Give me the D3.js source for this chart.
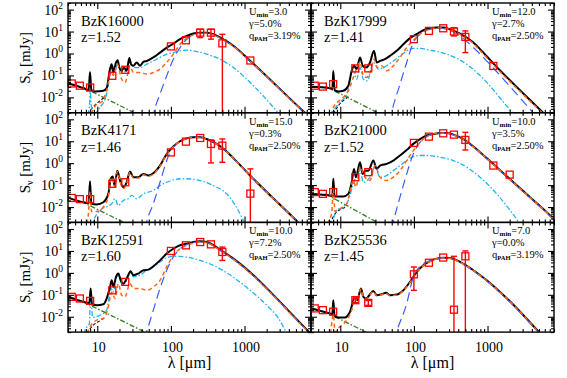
<!DOCTYPE html>
<html>
<head>
<meta charset="utf-8">
<script src="https://cdnjs.cloudflare.com/ajax/libs/d3/7.8.5/d3.min.js"></script>
<style>
	body{margin:0;background:#fff;}
	text{font-family:"Liberation Serif","Times New Roman",serif;fill:#000;}
</style>
</head>
<body>
<svg id="sed" width="567" height="378"></svg>
<script>
(function(){

	// photometry: wavelength (um), flux (mJy), error bar ends (0 = down off the axis, null = none)
	var wave16000 = [4.5,5.8,8,16,24,100,160,250,350,500,1200];
	var flux16000 = [0.043,0.034,0.028,0.096,0.18,2.1,4.0,8.9,8.9,2.9,0.48];
	var lo16000 = [null,null,null,null,null,null,null,5.3,4.5,0,null];
	var hi16000 = [null,null,null,null,null,null,null,12.7,12.7,7.5,null];

	var wave17999 = [4.5,5.8,8,16,24,100,160,250,350,500,1200];
	var flux17999 = [0.034,0.031,0.040,0.21,0.21,4.5,10.7,14.1,10.0,5.7,0.27];
	var lo17999 = [null,null,null,null,null,null,null,null,6.3,1.1,null];
	var hi17999 = [null,null,null,null,null,null,null,null,15.1,10.7,null];

	var wave4171 = [4.5,5.8,8,16,24,100,160,250,350,500,1200];
	var flux4171 = [0.026,0.023,0.023,0.115,0.136,3.1,9.6,14.1,7.5,6.3,0.041];
	var lo4171 = [null,null,null,null,null,null,null,null,1.03,1.1,0];
	var hi4171 = [null,null,null,null,null,null,null,null,11.5,12.7,0.55];

	var wave21000 = [4.5,5.8,8,16,24,100,160,250,350,500,1200,2000];
	var flux21000 = [0.048,0.040,0.048,0.23,0.39,8.4,16.2,23,20,11.5,0.78,0.30];
	var lo21000 = [null,null,null,null,null,null,null,null,null,4.0,null,null];
	var hi21000 = [null,null,null,null,null,null,null,null,null,25.5,null,null];

	var wave12591 = [4.5,5.8,8,16,24,100,160,250,350,500];
	var flux12591 = [0.081,0.068,0.053,0.16,0.39,10,18,25.5,20,9.0];
	var lo12591 = [null,null,null,null,null,null,null,null,null,3.7];
	var hi12591 = [null,null,null,null,null,null,null,null,null,15];

	var wave25536 = [4.5,5.8,8,16,24,100,160,250,350,500];
	var flux25536 = [0.024,0.020,0.017,0.057,0.043,0.86,2.9,5.0,0.021,5.7];
	var lo25536 = [null,null,null,0.045,0.033,0.16,null,null,0,0];
	var hi25536 = [null,null,null,0.07,0.055,1.86,null,null,5.7,10];

	// model curves, pairs of [log10 lambda/um, log10 S/mJy]
	var total16000 = [[0.607,-1.37],[0.81,-1.58],[0.883,-1.67],[0.901,-0.84],[0.919,-1.67],[0.969,-1.73],[1.082,-1.7],[1.127,-1.58],[1.173,-0.71],[1.195,-0.49],[1.218,-0.87],[1.254,-0.41],[1.277,-0.31],[1.299,-0.64],[1.331,-0.79],[1.363,-0.64],[1.399,-0.79],[1.435,-0.21],[1.458,-0.49],[1.49,-0.56],[1.535,-0.41],[1.58,-0.56],[1.626,-0.38],[1.671,-0.34],[1.761,-0.18],[1.852,0.04],[1.943,0.27],[2.033,0.45],[2.124,0.65],[2.214,0.8],[2.305,0.91],[2.395,0.95],[2.486,0.95],[2.577,0.88],[2.667,0.73],[2.848,0.35],[3.079,-0.34],[3.82,-2.7],[3.95,-3.1]];
	var diffuse16000 = [[0.92,-2.75],[0.99,-2.31],[1.06,-2.2],[1.127,-1.7],[1.186,-0.87],[1.218,-1.0],[1.272,-0.49],[1.331,-1.17],[1.376,-1.32],[1.444,-0.56],[1.49,-0.87],[1.58,-0.87],[1.671,-0.94],[1.761,-0.87],[1.852,-0.71],[1.943,-0.41],[2.033,-0.03],[2.124,0.42],[2.214,0.7],[2.305,0.85],[2.395,0.92],[2.486,0.92],[2.577,0.85],[2.667,0.7],[2.848,0.33],[3.079,-0.36],[3.82,-2.72],[3.95,-3.12]];
	var pdr16000 = [[0.87,-2.8],[0.895,-2.3],[0.905,-1.6],[0.915,-2.3],[0.95,-2.75],[1.037,-2.46],[1.127,-1.85],[1.182,-0.87],[1.209,-0.56],[1.241,-0.87],[1.272,-0.41],[1.309,-0.71],[1.354,-0.87],[1.399,-0.71],[1.444,-0.34],[1.49,-0.64],[1.58,-0.64],[1.671,-0.49],[1.761,-0.34],[1.852,-0.18],[1.943,-0.03],[2.033,0.04],[2.124,0.12],[2.214,0.15],[2.305,0.12],[2.486,-0.03],[2.667,-0.26],[2.848,-0.64],[3.1,-1.4],[3.451,-2.69],[3.55,-3.1]];
	var cold16000 = [[1.75,-3.0],[1.77,-2.68],[1.852,-1.85],[1.943,-1.02],[2.033,-0.26],[2.124,0.27],[2.214,0.65],[2.305,0.85],[2.395,0.92],[2.486,0.93],[2.577,0.86],[2.667,0.71],[2.848,0.33],[3.079,-0.36],[3.82,-2.72],[3.95,-3.12]];
	var star16000 = [[0.8,-1.53],[1.52,-2.73]];
	var extra16000 = [[0.865,-2.75],[0.946,-2.43],[1.037,-2.15],[1.105,-2.0]];

	var total17999 = [[0.611,-1.52],[0.86,-1.58],[0.892,-1.62],[0.905,-0.79],[0.923,-1.67],[0.973,-1.73],[1.041,-1.7],[1.109,-1.47],[1.155,-0.79],[1.186,-0.56],[1.222,-0.71],[1.268,-0.18],[1.304,-0.56],[1.349,-0.64],[1.404,-0.41],[1.458,0.12],[1.494,-0.41],[1.54,-0.34],[1.607,-0.26],[1.675,-0.11],[1.766,0.12],[1.857,0.42],[1.947,0.7],[2.038,0.88],[2.128,1.06],[2.219,1.15],[2.309,1.18],[2.4,1.18],[2.491,1.1],[2.626,0.91],[2.808,0.5],[2.898,0.2],[3.075,-0.44],[3.754,-2.7],[3.9,-3.18]];
	var diffuse17999 = [[0.88,-2.8],[0.905,-2.46],[1.041,-2.0],[1.109,-1.7],[1.186,-1.02],[1.268,-0.41],[1.313,-1.02],[1.358,-1.09],[1.404,-0.87],[1.458,-0.26],[1.503,-0.64],[1.562,-0.56],[1.63,-0.79],[1.721,-0.56],[1.811,-0.18],[1.902,0.27],[1.992,0.6],[2.083,0.88],[2.174,1.06],[2.264,1.15],[2.355,1.17],[2.445,1.14],[2.536,1.02],[2.626,0.87],[2.808,0.45],[2.898,0.14],[3.075,-0.5],[3.754,-2.74],[3.9,-3.22]];
	var pdr17999 = [[0.89,-3.0],[0.905,-2.68],[0.973,-2.31],[1.087,-1.85],[1.177,-0.79],[1.222,-1.17],[1.268,-0.64],[1.313,-1.17],[1.367,-1.24],[1.449,-0.41],[1.517,-0.71],[1.63,-0.56],[1.721,-0.34],[1.811,-0.11],[1.902,0.12],[1.992,0.23],[2.083,0.23],[2.219,0.15],[2.445,-0.03],[2.717,-0.49],[2.898,-1.0],[3.34,-2.7],[3.45,-3.1]];
	var cold17999 = [[1.67,-3.1],[1.698,-2.68],[1.811,-1.4],[1.902,-0.41],[1.992,0.5],[2.083,0.88],[2.174,1.06],[2.264,1.13],[2.355,1.15],[2.445,1.1],[2.536,0.98],[2.626,0.8],[2.808,0.27],[3.075,-0.65],[3.618,-2.7],[3.75,-3.2]];
	var star17999 = [[0.8,-1.5],[1.52,-2.72]];
	var extra17999 = [[0.905,-2.75],[0.973,-2.38],[1.064,-2.08],[1.132,-1.93]];

	var total4171 = [[0.607,-1.58],[0.81,-1.78],[0.883,-1.82],[0.901,-0.82],[0.919,-1.85],[0.992,-1.88],[1.082,-1.78],[1.15,-1.4],[1.182,-0.71],[1.209,-0.61],[1.236,-1.02],[1.272,-0.34],[1.309,-0.79],[1.354,-1.09],[1.399,-0.87],[1.444,-0.38],[1.49,-0.64],[1.558,-0.64],[1.626,-0.49],[1.694,-0.56],[1.761,-0.46],[1.852,-0.11],[1.943,0.42],[2.033,0.76],[2.124,1.0],[2.214,1.13],[2.305,1.18],[2.395,1.18],[2.486,1.1],[2.622,0.88],[2.75,0.55],[2.871,0.15],[3.075,-0.56],[3.727,-2.69],[3.85,-3.1]];
	var diffuse4171 = [[0.86,-2.75],[0.88,-2.3],[0.901,-1.3],[0.92,-2.2],[0.992,-2.2],[1.082,-2.0],[1.15,-1.5],[1.182,-0.75],[1.209,-0.66],[1.236,-1.08],[1.272,-0.38],[1.309,-0.84],[1.354,-1.15],[1.399,-0.92],[1.444,-0.42],[1.49,-0.68],[1.558,-0.68],[1.626,-0.53],[1.694,-0.6],[1.761,-0.5],[1.852,-0.14],[1.943,0.4],[2.033,0.75],[2.124,0.99],[2.214,1.12],[2.305,1.17],[2.395,1.17],[2.486,1.09],[2.622,0.87],[2.75,0.54],[2.871,0.14],[3.075,-0.57],[3.727,-2.7],[3.85,-3.11]];
	var pdr4171 = [[0.93,-3.0],[0.946,-2.68],[1.037,-2.15],[1.195,-1.85],[1.241,-1.62],[1.286,-1.93],[1.354,-1.7],[1.422,-1.62],[1.467,-1.47],[1.535,-1.62],[1.626,-1.4],[1.761,-1.24],[1.852,-1.02],[1.943,-0.87],[2.033,-0.76],[2.124,-0.71],[2.214,-0.71],[2.395,-0.79],[2.577,-1.02],[2.758,-1.4],[2.88,-1.95],[3.0,-2.7],[3.05,-3.0]];
	var cold4171 = [[1.65,-3.0],[1.671,-2.68],[1.761,-1.85],[1.852,-0.87],[1.943,0.12],[1.988,0.5],[2.078,0.88],[2.169,1.06],[2.305,1.17],[2.395,1.17],[2.486,1.1],[2.622,0.88],[2.75,0.55],[2.871,0.15],[3.075,-0.56],[3.727,-2.69],[3.85,-3.1]];
	var star4171 = [[0.78,-1.74],[1.38,-2.73]];
	var extra4171 = [];

	var total21000 = [[0.611,-1.4],[0.86,-1.47],[0.892,-1.5],[0.905,-0.71],[0.923,-1.52],[1.041,-1.52],[1.109,-1.4],[1.155,-0.87],[1.186,-0.26],[1.213,-0.64],[1.268,0.04],[1.304,-0.49],[1.336,-0.34],[1.381,-0.34],[1.449,0.12],[1.494,-0.26],[1.54,-0.11],[1.63,-0.03],[1.721,0.12],[1.811,0.35],[1.902,0.6],[1.992,0.88],[2.083,1.1],[2.174,1.26],[2.264,1.33],[2.355,1.38],[2.445,1.38],[2.536,1.3],[2.672,1.1],[2.898,0.5],[3.125,-0.18],[3.351,-0.87],[3.578,-1.55],[3.804,-2.23],[3.94,-2.68]];
	var diffuse21000 = [[0.815,-2.75],[0.883,-2.3],[0.905,-1.2],[0.928,-2.2],[0.951,-2.15],[1.087,-1.85],[1.177,-0.79],[1.213,-1.09],[1.268,-0.18],[1.336,-0.64],[1.404,-0.79],[1.472,-0.11],[1.54,-0.64],[1.63,-0.79],[1.721,-0.64],[1.811,-0.34],[1.902,0.12],[1.992,0.57],[2.083,0.95],[2.174,1.21],[2.264,1.33],[2.355,1.37],[2.445,1.37],[2.536,1.29],[2.672,1.09],[2.898,0.49],[3.125,-0.19],[3.351,-0.88],[3.578,-1.56],[3.804,-2.24],[3.94,-2.69]];
	var pdr21000 = [[0.89,-3.0],[0.905,-2.61],[0.951,-2.15],[1.041,-2.0],[1.109,-1.7],[1.177,-0.94],[1.268,-0.34],[1.313,-0.87],[1.404,-0.64],[1.472,-0.18],[1.54,-0.64],[1.63,-0.56],[1.721,-0.34],[1.811,-0.11],[1.902,0.12],[1.992,0.3],[2.083,0.35],[2.174,0.35],[2.355,0.27],[2.536,0.12],[2.717,-0.18],[2.898,-0.64],[3.125,-1.4],[3.306,-2.15],[3.419,-2.68],[3.47,-3.0]];
	var cold21000 = [[1.7,-3.0],[1.721,-2.68],[1.811,-1.55],[1.902,-0.49],[1.992,0.42],[2.083,0.95],[2.174,1.21],[2.264,1.33],[2.355,1.37],[2.445,1.37],[2.536,1.29],[2.672,1.09],[2.898,0.48],[3.125,-0.2],[3.351,-0.9],[3.578,-1.58],[3.804,-2.27],[3.94,-2.72]];
	var star21000 = [[0.8,-1.4],[1.52,-2.73]];
	var extra21000 = [[0.86,-2.75],[0.928,-2.31],[1.019,-2.08],[1.087,-2.0]];

	var total12591 = [[0.607,-1.09],[0.81,-1.32],[0.892,-1.37],[0.91,-0.71],[0.928,-1.43],[0.992,-1.47],[1.082,-1.43],[1.127,-1.17],[1.173,-0.64],[1.195,-0.34],[1.218,-0.64],[1.254,-0.18],[1.286,-0.03],[1.318,-0.34],[1.354,-0.49],[1.399,-0.26],[1.453,0.07],[1.49,-0.11],[1.558,-0.03],[1.626,0.12],[1.694,0.15],[1.761,0.3],[1.852,0.57],[1.943,0.88],[2.033,1.1],[2.124,1.26],[2.214,1.33],[2.305,1.41],[2.395,1.44],[2.486,1.41],[2.577,1.26],[2.667,1.06],[2.848,0.65],[3.89,-2.74],[3.95,-2.94]];
	var diffuse12591 = [[0.86,-2.75],[0.878,-2.61],[0.992,-2.15],[1.082,-2.08],[1.15,-1.55],[1.195,-0.87],[1.241,-1.17],[1.286,-0.49],[1.331,-1.02],[1.376,-1.09],[1.444,-0.49],[1.49,-0.71],[1.58,-0.71],[1.671,-0.79],[1.761,-0.64],[1.852,-0.34],[1.943,0.27],[2.033,0.8],[2.124,1.1],[2.214,1.26],[2.305,1.36],[2.395,1.41],[2.486,1.38],[2.577,1.23],[2.667,1.03],[2.848,0.62],[3.89,-2.77],[3.95,-2.97]];
	var pdr12591 = [[0.82,-2.8],[0.833,-2.61],[0.892,-2.31],[0.91,-0.87],[0.937,-2.03],[1.037,-1.93],[1.127,-1.7],[1.186,-0.71],[1.218,-0.87],[1.263,-0.18],[1.29,-0.11],[1.331,-0.49],[1.399,-0.34],[1.453,0.01],[1.49,-0.18],[1.58,-0.11],[1.671,0.12],[1.761,0.27],[1.852,0.5],[1.943,0.69],[2.033,0.75],[2.124,0.75],[2.214,0.72],[2.395,0.57],[2.622,0.27],[2.848,-0.2],[3.075,-0.79],[3.3,-1.47],[3.46,-2.06],[3.57,-2.7],[3.65,-3.0]];
	var cold12591 = [[1.64,-3.0],[1.671,-2.68],[1.761,-1.7],[1.852,-0.71],[1.943,0.12],[2.033,0.72],[2.124,1.1],[2.214,1.29],[2.305,1.38],[2.395,1.41],[2.486,1.39],[2.577,1.24],[2.667,1.04],[2.848,0.63],[3.89,-2.76],[3.95,-2.96]];
	var star12591 = [[0.8,-1.3],[1.66,-2.72]];
	var extra12591 = [[0.86,-2.75],[0.946,-2.38],[1.037,-2.18],[1.105,-2.03]];

	var total25536 = [[0.611,-1.62],[0.86,-1.85],[0.892,-1.88],[0.905,-1.25],[0.923,-1.97],[0.973,-2.03],[1.064,-2.03],[1.132,-1.77],[1.2,-1.09],[1.231,-1.24],[1.281,-0.71],[1.313,-1.09],[1.349,-1.17],[1.394,-1.02],[1.449,-0.82],[1.494,-1.02],[1.562,-0.97],[1.621,-0.91],[1.675,-1.02],[1.766,-0.99],[1.857,-0.79],[1.947,-0.41],[2.038,0.04],[2.128,0.35],[2.219,0.54],[2.309,0.65],[2.4,0.69],[2.491,0.68],[2.626,0.5],[2.808,0.12],[2.989,-0.34],[3.17,-0.87],[3.351,-1.45],[3.7,-2.7],[3.8,-3.05]];
	var diffuse25536 = [[0.87,-2.75],[0.905,-1.9],[0.93,-2.7],[0.98,-2.5],[1.087,-2.15],[1.155,-1.7],[1.2,-1.11],[1.231,-1.26],[1.281,-0.73],[1.313,-1.11],[1.349,-1.19],[1.394,-1.04],[1.449,-0.84],[1.494,-1.04],[1.562,-0.99],[1.621,-0.93],[1.675,-1.04],[1.766,-1.01],[1.857,-0.81],[1.947,-0.43],[2.038,0.02],[2.128,0.33],[2.219,0.52],[2.309,0.64],[2.4,0.68],[2.491,0.67],[2.626,0.49],[2.808,0.11],[2.989,-0.35],[3.17,-0.88],[3.351,-1.46],[3.7,-2.71],[3.8,-3.06]];
	var pdr25536 = [];
	var cold25536 = [[1.73,-3.1],[1.766,-2.68],[1.902,-1.4],[1.992,-0.18],[2.083,0.3],[2.174,0.5],[2.264,0.6],[2.355,0.66],[2.445,0.67],[2.536,0.62],[2.626,0.48],[2.808,0.09],[2.989,-0.37],[3.17,-0.9],[3.351,-1.48],[3.7,-2.73],[3.8,-3.08]];
	var star25536 = [[0.8,-1.78],[1.36,-2.72]];
	var extra25536 = [];

	var names = ["BzK16000","BzK17999","BzK4171","BzK21000","BzK12591","BzK25536"];
	var redshifts = ["1.52","1.41","1.46","1.52","1.60","1.45"];
	var uMin = ["3.0","12.0","15.0","10.0","10.0","7.0"];
	var gammas = ["5.0","2.7","0.3","3.5","7.2","0.0"];
	var qPah = ["3.19","2.50","2.50","2.50","2.50","3.19"];

	var xMajor = [10,100,1000];
	var yMajor = [0.01,0.1,1,10,100];
	var yLabels = ["-2","-1","0","1","2"];

	var panels = [
		{wave:wave16000, flux:flux16000, lo:lo16000, hi:hi16000, total:total16000, diffuse:diffuse16000, pdr:pdr16000, cold:cold16000, star:star16000, extra:extra16000},
		{wave:wave17999, flux:flux17999, lo:lo17999, hi:hi17999, total:total17999, diffuse:diffuse17999, pdr:pdr17999, cold:cold17999, star:star17999, extra:extra17999},
		{wave:wave4171, flux:flux4171, lo:lo4171, hi:hi4171, total:total4171, diffuse:diffuse4171, pdr:pdr4171, cold:cold4171, star:star4171, extra:extra4171},
		{wave:wave21000, flux:flux21000, lo:lo21000, hi:hi21000, total:total21000, diffuse:diffuse21000, pdr:pdr21000, cold:cold21000, star:star21000, extra:extra21000},
		{wave:wave12591, flux:flux12591, lo:lo12591, hi:hi12591, total:total12591, diffuse:diffuse12591, pdr:pdr12591, cold:cold12591, star:star12591, extra:extra12591},
		{wave:wave25536, flux:flux25536, lo:lo25536, hi:hi25536, total:total25536, diffuse:diffuse25536, pdr:pdr25536, cold:cold25536, star:star25536, extra:extra25536}
	];

	// drawing order: lowest first
	var layers = [
		{key:"extra", color:"#000000", dash:"3,2", width:1.1},
		{key:"star", color:"#2e7d18", dash:"5,2,1.5,2", width:1.3},
		{key:"pdr", color:"#1eb4f0", dash:"5,2,1.5,2", width:1.3},
		{key:"total", color:"#000000", dash:null, width:2},
		{key:"cold", color:"#3a5cff", dash:"9,5", width:1.2},
		{key:"diffuse", color:"#ff6414", dash:"4,3", width:1.5}
	];

	var left0 = 68, panelW = 243, top0 = 3, panelH = 109.7;
	var red = "#ff0000";

	var svg = d3.select("#sed");

	function minorTicks(lo, hi){
		var out = [];
		for(var e = -4; e <= 4; e++){
			for(var m = 2; m <= 9; m++){
				var v = m * Math.pow(10, e);
				if(v >= lo * 0.999 && v <= hi * 1.001) out.push(v);
			}
		}
		return out;
	}

	panels.forEach(function(p, i){
		var col = i % 2, row = Math.floor(i / 2);
		var left = left0 + col * panelW;
		var top = top0 + row * panelH;

		var x = d3.scaleLog().domain([4, 8000]).range([left, left + panelW]);
		var y = d3.scaleLog().domain([0.002, 200]).range([top + panelH, top]);

		var g = svg.append("g");

		g.append("clipPath").attr("id", "clip" + i)
			.append("rect")
			.attr("x", left).attr("y", top)
			.attr("width", panelW).attr("height", panelH);

		var line = d3.line()
			.x(function(d){ return x(Math.pow(10, d[0])); })
			.y(function(d){ return y(Math.pow(10, d[1])); })
			.curve(d3.curveMonotoneX);

		var curves = g.append("g").attr("clip-path", "url(#clip" + i + ")");
		layers.forEach(function(l){
			var pts = p[l.key];
			if(!pts || pts.length < 2) return;
			curves.append("path")
				.attr("d", line(pts))
				.attr("fill", "none")
				.attr("stroke", l.color)
				.attr("stroke-width", l.width)
				.attr("stroke-dasharray", l.dash)
				.attr("stroke-linejoin", "round");
		});

		// error bars
		var yBottom = top + panelH;
		p.wave.forEach(function(w, k){
			if(p.hi[k] === null) return;
			var xp = x(w);
			var yHi = y(p.hi[k]);
			var yLo = p.lo[k] === 0 ? yBottom : y(p.lo[k]);
			g.append("line").attr("x1", xp).attr("x2", xp).attr("y1", yHi).attr("y2", yLo)
				.attr("stroke", red).attr("stroke-width", 1.4);
			g.append("line").attr("x1", xp - 3).attr("x2", xp + 3).attr("y1", yHi).attr("y2", yHi)
				.attr("stroke", red).attr("stroke-width", 1.4);
			if(p.lo[k] !== 0){
				g.append("line").attr("x1", xp - 3).attr("x2", xp + 3).attr("y1", yLo).attr("y2", yLo)
					.attr("stroke", red).attr("stroke-width", 1.4);
			}
		});

		g.selectAll(".pt" + i)
			.data(p.wave)
			.enter().append("rect")
				.attr("x", function(d){ return x(d) - 3.5; })
				.attr("y", function(d, k){ return y(p.flux[k]) - 3.5; })
				.attr("width", 7).attr("height", 7)
				.attr("fill", "none")
				.attr("stroke", red)
				.attr("stroke-width", 1.3);

		// ticks, all pointing inward
		var xMinor = minorTicks(4, 8000), yMinor = minorTicks(0.002, 200);
		function strip(s){ s.select(".domain").remove(); s.selectAll("text").remove(); }
		[[xMajor, 6], [xMinor, 3]].forEach(function(t){
			g.append("g").attr("transform", "translate(0," + (top + panelH) + ")")
				.call(d3.axisTop(x).tickValues(t[0]).tickSize(t[1]).tickFormat(""))
				.call(strip);
			g.append("g").attr("transform", "translate(0," + top + ")")
				.call(d3.axisBottom(x).tickValues(t[0]).tickSize(t[1]).tickFormat(""))
				.call(strip);
		});
		[[yMajor, 6], [yMinor, 3]].forEach(function(t){
			g.append("g").attr("transform", "translate(" + left + ",0)")
				.call(d3.axisRight(y).tickValues(t[0]).tickSize(t[1]).tickFormat(""))
				.call(strip);
			g.append("g").attr("transform", "translate(" + (left + panelW) + ",0)")
				.call(d3.axisLeft(y).tickValues(t[0]).tickSize(t[1]).tickFormat(""))
				.call(strip);
		});
		g.selectAll(".tick line").attr("stroke", "#000").attr("stroke-width", 1.1);

		g.append("rect")
			.attr("x", left).attr("y", top)
			.attr("width", panelW).attr("height", panelH)
			.attr("fill", "none").attr("stroke", "#000").attr("stroke-width", 1.4);

		// galaxy name and redshift
		g.append("text").attr("x", left + 13).attr("y", top + 22.6)
			.style("font-size", "14.5px").text(names[i]);
		g.append("text").attr("x", left + 13).attr("y", top + 38.8)
			.style("font-size", "14.5px").text("z=" + redshifts[i]);

		// fit parameters, one text block
		var px = left + 181;
		var pt = g.append("text").attr("y", top + 12).style("font-size", "10.5px");
		pt.append("tspan").attr("x", px).text("U");
		pt.append("tspan").attr("dy", 2).style("font-size", "7px").style("font-weight", "bold").text("min");
		pt.append("tspan").attr("dy", -2).text("=" + uMin[i]);
		pt.append("tspan").attr("x", px).attr("dy", 12).text("\u03b3=" + gammas[i] + "%");
		pt.append("tspan").attr("x", px).attr("dy", 12).text("q");
		pt.append("tspan").attr("dy", 2).style("font-size", "6.5px").style("font-weight", "bold").text("PAH");
		pt.append("tspan").attr("dy", -2).text("=" + qPah[i] + "%");

		if(col === 0){
			yMajor.forEach(function(v, k){
				var t = g.append("text")
					.attr("x", left - 5).attr("y", y(v) + 5)
					.attr("text-anchor", "end")
					.style("font-size", "14px");
				t.append("tspan").text("10");
				t.append("tspan").attr("dy", -6).style("font-size", "9.5px").text(yLabels[k]);
			});
			var ty = g.append("text")
				.attr("transform", "translate(30," + (top + panelH / 2) + ") rotate(-90)")
				.attr("text-anchor", "middle")
				.style("font-size", "15px");
			ty.append("tspan").text("S");
			ty.append("tspan").attr("dy", 3).style("font-size", "10px").text("\u03bd");
			ty.append("tspan").attr("dy", -3).text(" [mJy]");
		}

		if(row === 2){
			xMajor.forEach(function(v){
				g.append("text")
					.attr("x", x(v) + 1.5).attr("y", 352)
					.attr("text-anchor", "middle")
					.style("font-size", "14px")
					.text(v);
			});
			g.append("text")
				.attr("x", left + panelW / 2).attr("y", 368)
				.attr("text-anchor", "middle")
				.style("font-size", "16px")
				.text("\u03bb [\u03bcm]");
		}
	});

})();
</script>
</body>
</html>
